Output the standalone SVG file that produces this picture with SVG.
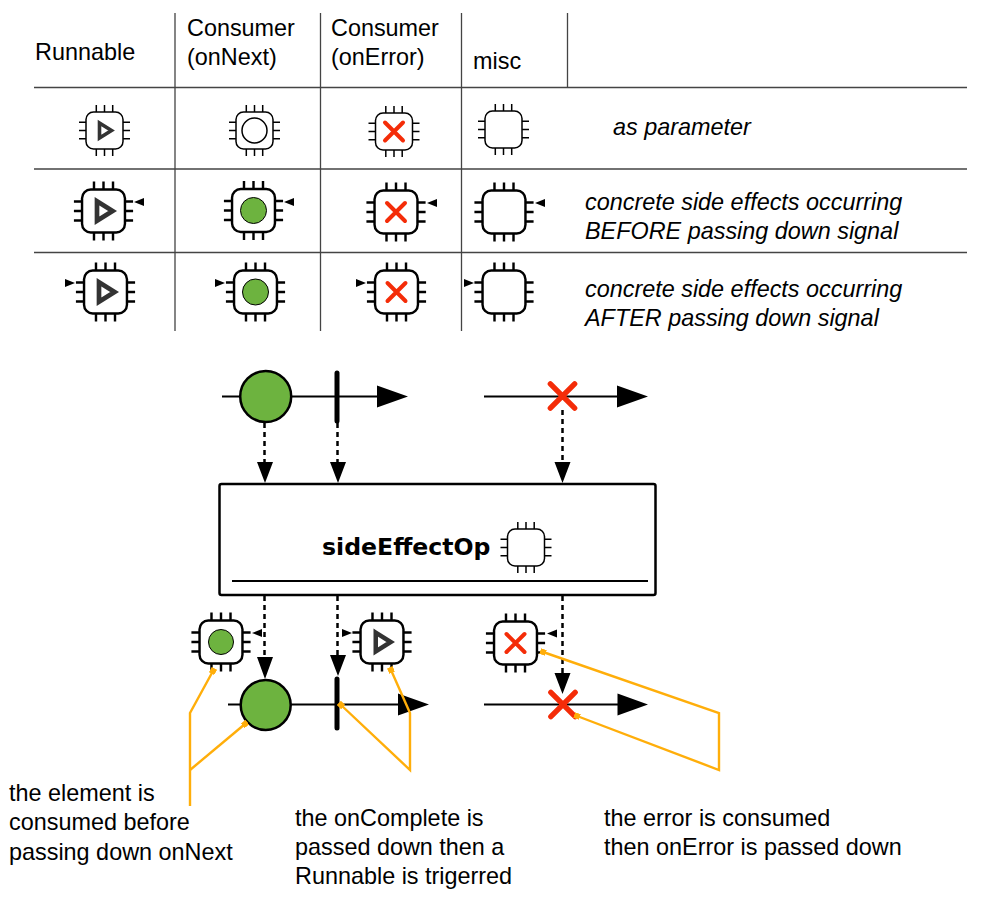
<svg xmlns="http://www.w3.org/2000/svg" width="985" height="900" viewBox="0 0 985 900">
<style>
text{font-family:"Liberation Sans",Arial,sans-serif;font-size:23.4px;fill:#000}
.i{font-style:italic}
.b{font-family:"DejaVu Sans",Verdana,sans-serif;font-weight:bold;font-size:23.6px;fill:#000}
.grid{stroke:#444;stroke-width:1.300;fill:none}
.tl{stroke:#000;stroke-width:2;fill:none}
.dash{stroke:#000;stroke-width:2.500;stroke-dasharray:5 4;fill:none}
.or{stroke:#ffae0a;stroke-width:2.400;fill:none}
.red{stroke:#f42c08;fill:none;stroke-linecap:round}
.bar{stroke:#000;stroke-width:5;stroke-linecap:round}
.gr{fill:#6db33f;stroke:#000}
.chip{fill:#fff;stroke:#000}
.tri{fill:#000}
</style>
<defs>
<g id="chip">
<rect class="chip" x="-18.500" y="-18.500" width="37" height="37" rx="7.500"/>
<path fill="none" stroke="#000" d="M-8.200-18.500v-7M0-18.500v-7M8.200-18.500v-7M-8.200 18.500v7M0 18.500v7M8.200 18.500v7M-18.500-8.200h-7M-18.500 0h-7M-18.500 8.200h-7M18.500-8.200h7M18.500 0h7M18.500 8.200h7"/>
</g>
<g id="thin" stroke-width="1.500"><use href="#chip"/></g>
<g id="bold" transform="scale(1.160)" stroke-width="2.100"><use href="#chip"/></g>
<path id="play" d="M-6-7.500L6 0L-6 7.500Z" fill="none" stroke="#333" stroke-width="3.600" transform="translate(1 0)"/>
<path id="x" class="red" d="M-9-9L9 9M9-9L-9 9" stroke-width="4"/>
<marker id="sq" viewBox="0 0 10 10" refX="5" refY="5" markerWidth="6" markerHeight="6" markerUnits="userSpaceOnUse" orient="auto"><rect width="10" height="10" fill="#ffae0a"/></marker>
</defs>
<g id="table-grid" class="grid">
<path d="M34 87.500H967M34 169H967M34 252.500H967"/>
<path d="M175 13V331M320.500 13V331M461.500 13V331M567.500 13V87"/>
</g>
<g id="table-text">
<text x="35" y="60">Runnable</text>
<text x="187" y="36">Consumer</text><text x="187" y="65">(onNext)</text>
<text x="331" y="36">Consumer</text><text x="331" y="65">(onError)</text>
<text x="473" y="69">misc</text>
<text class="i" x="613" y="135">as parameter</text>
<text class="i" x="585" y="210">concrete side effects occurring</text>
<text class="i" x="585" y="239">BEFORE passing down signal</text>
<text class="i" x="585" y="297">concrete side effects occurring</text>
<text class="i" x="585" y="326">AFTER passing down signal</text>
</g>
<g id="chip-r1-runnable" transform="translate(104.500 130.500)"><use href="#thin"/><use href="#play"/></g>
<g id="chip-r1-next" transform="translate(254.500 130.500)"><use href="#thin"/><circle r="12.500" fill="#fff" stroke="#000" stroke-width="1.500"/></g>
<g id="chip-r1-error" transform="translate(394 131.500)"><use href="#thin"/><use href="#x"/></g>
<g id="chip-r1-misc" transform="translate(503.500 129.500)"><use href="#thin"/></g>
<g id="chip-r2-runnable" transform="translate(103.500 211)"><use href="#bold"/><use href="#play" transform="scale(1.300)"/><path class="tri" d="M30.500-9L40.500-13V-5Z"/></g>
<g id="chip-r2-next" transform="translate(253.500 210.500)"><use href="#bold"/><circle class="gr" r="13" stroke-width="1"/><path class="tri" d="M30.500-8.500L40.500-12.500V-4.500Z"/></g>
<g id="chip-r2-error" transform="translate(396 212)"><use href="#bold"/><use href="#x"/><path class="tri" d="M31-9L41-13V-5Z"/></g>
<g id="chip-r2-misc" transform="translate(504 212)"><use href="#bold"/><path class="tri" d="M31-9L41-13V-5Z"/></g>
<g id="chip-r3-runnable" transform="translate(105.500 292)"><use href="#bold"/><use href="#play" transform="scale(1.300)"/><path class="tri" d="M-30.500-9L-40.500-13V-5Z"/></g>
<g id="chip-r3-next" transform="translate(255.500 292)"><use href="#bold"/><circle class="gr" r="13" stroke-width="1"/><path class="tri" d="M-30.500-9L-40.500-13V-5Z"/></g>
<g id="chip-r3-error" transform="translate(396.500 292)"><use href="#bold"/><use href="#x"/><path class="tri" d="M-30.500-9L-40.500-13V-5Z"/></g>
<g id="chip-r3-misc" transform="translate(504 292)"><use href="#bold"/><path class="tri" d="M-30-9L-40-13V-5Z"/></g>
<g id="connectors">
<path class="tl" d="M222 396.500H378M484 396.500H618M228 704.500H399M484 704.500H618"/>
<path class="tri" d="M377 385.500L408 396.500L377 407.500ZM617 385.500L648 396.500L617 407.500ZM398 693.500L429 704.500L398 715.500ZM617.500 693.500L648 704.500L617.500 715.500Z"/>
<path class="dash" d="M264.500 423V463M337.500 423V463M562.500 410V463M264.500 596V658M337.500 596V656M562.500 596V674"/>
<path class="tri" d="M257 462H273L265 483ZM330 462H346L338 483ZM554.500 462H570.500L562.500 483ZM257 657H273L265 679ZM330 655H346L338 676ZM554.500 673H570.500L562.500 694Z"/>
</g>
<g id="marble-next-top"><circle class="gr" cx="265.700" cy="396.500" r="25.500" stroke-width="2.500"/></g>
<g id="marble-complete-top"><path class="bar" d="M337 373V421"/></g>
<g id="marble-error-top"><use href="#x" transform="translate(562.500 396) scale(1.350)"/></g>
<g id="marble-next-bottom"><circle class="gr" cx="265.700" cy="705" r="25" stroke-width="2.500"/></g>
<g id="marble-complete-bottom"><path class="bar" d="M337 679V728"/></g>
<g id="marble-error-bottom"><use href="#x" transform="translate(563 704.500) scale(1.350)"/></g>
<g id="sideEffectOp">
<rect x="219.500" y="484" width="436" height="111" rx="2" fill="#fff" stroke="#000" stroke-width="2.500"/>
<path d="M232 581H648" stroke="#000" stroke-width="2"/>
<text class="b" x="322" y="555">sideEffectOp</text>
<use href="#thin" transform="translate(526 547.500)"/>
</g>
<g id="chip-next" transform="translate(221 642)"><use href="#bold"/><circle class="gr" r="12.500" stroke-width="1"/><path class="tri" d="M31-9L41-13V-5Z"/></g>
<g id="chip-runnable" transform="translate(382 642)"><use href="#bold"/><use href="#play" transform="scale(1.250)"/><path class="tri" d="M-30-9L-40-13V-5Z"/></g>
<g id="chip-error" transform="translate(515.500 643)"><use href="#bold"/><use href="#x"/><path class="tri" d="M31.500-9.500L41.500-13.500V-5.500Z"/></g>
<g id="callouts">
<path class="or" marker-start="url(#sq)" d="M213 671L190 713V806"/>
<path class="or" marker-end="url(#sq)" d="M190 770L245 724"/>
<path class="or" marker-start="url(#sq)" marker-end="url(#sq)" d="M391 670L410 713V770L341 705"/>
<path class="or" marker-start="url(#sq)" marker-end="url(#sq)" d="M543 652L719 713V770L577 716"/>
</g>
<g id="notes">
<text x="9" y="801">the element is</text><text x="9" y="830">consumed before</text><text x="9" y="860">passing down onNext</text>
<text x="295" y="826">the onComplete is</text><text x="295" y="855">passed down then a</text><text x="295" y="884">Runnable is trigerred</text>
<text x="604" y="826">the error is consumed</text><text x="604" y="855">then onError is passed down</text>
</g>
</svg>
